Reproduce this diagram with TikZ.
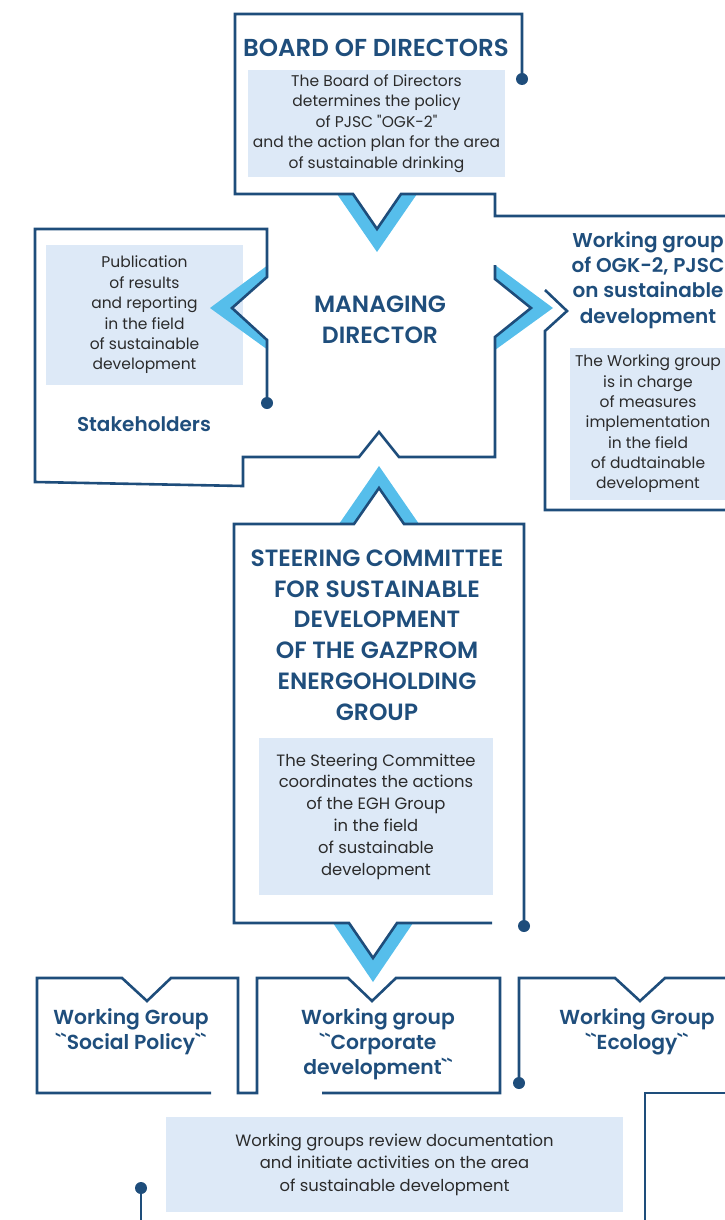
\documentclass[tikz,border=0pt]{standalone}
\usepackage{fontspec}
\setmainfont{Poppins}[Ligatures=TeXOff, BoldFont={Poppins SemiBold}]
\definecolor{dkb}{HTML}{1E4D7B}
\definecolor{hd}{HTML}{1F4E7C}
\definecolor{ltb}{HTML}{56BEEB}
\definecolor{pale}{HTML}{DDE9F7}
\definecolor{txt}{HTML}{2B2B2B}
\newcommand{\bq}{\symbol{96}\symbol{96}}
\begin{document}
\begin{tikzpicture}[x=1pt,y=-1pt,
  outl/.style={draw=dkb, line width=2.6pt, line join=miter},
  chev/.style={fill=ltb, draw=none},
  palebox/.style={fill=pale, inner sep=0pt, text=txt, align=center},
  body/.style 2 args={font=\fontsize{#1}{#2}\selectfont},
  head/.style={text=hd, align=center, inner sep=0pt, font=\bfseries\fontsize{#1}{#1}\selectfont},
  dotn/.style={circle, fill=dkb, inner sep=0pt, minimum size=12pt}]
\useasboundingbox (0,0) rectangle (725,1220);
\clip (0,0) rectangle (725,1220);

% pale boxes with body text
\node[palebox, body={15.5}{20.5}, minimum width=257pt, minimum height=107pt] (bodtxt) at (376.5,123.5)
  {The Board of Directors\\determines the policy\\of PJSC "OGK-2"\\and the action plan for the area\\of sustainable drinking};
\node[palebox, body={15.5}{20.4}, minimum width=197pt, minimum height=140pt] (pubtxt) at (144.5,315)
  {Publication\\of results\\and reporting\\in the field\\of sustainable\\development};
\node[palebox, body={15.5}{20.3}, minimum width=156pt, minimum height=152pt] (wgtxt) at (648,424)
  {The Working group\\is in charge\\of measures\\implementation\\in the field\\of dudtainable\\development};
\node[palebox, body={16.4}{21.8}, minimum width=234pt, minimum height=157pt] (sctxt) at (376,816.5)
  {The Steering Committee\\coordinates the actions\\of the EGH Group\\in the field\\of sustainable\\development};
\node[palebox, body={16.4}{22.5}, minimum width=457pt, minimum height=95pt] (wgstxt) at (394.5,1164.5)
  {Working groups review documentation\\and initiate activities on the area\\of sustainable development};

% light blue chevrons
\fill[chev] (337,194) -- (377,252) -- (417,194) -- (401,194) -- (377,229) -- (353,194) -- cycle;
\fill[chev] (268,265) -- (210,308) -- (268,350) -- (268,340) -- (232,308) -- (268,277) -- cycle;
\fill[chev] (495,265) -- (553,308) -- (495,350) -- (495,337) -- (531,308) -- (495,279) -- cycle;
\fill[chev] (339,524) -- (379,466) -- (419,524) -- (404,524) -- (379,488) -- (354,524) -- cycle;
\fill[chev] (333,923) -- (373,982) -- (413,923) -- (397,923) -- (373,958) -- (349,923) -- cycle;

% outlines
\draw[outl] (522,79) -- (522,14) -- (235,14) -- (235,194) -- (353,194) -- (377,229) -- (401,194)
  -- (495,194) -- (495,216) -- (728,216);
\draw[outl] (267,403) -- (267,340) -- (232,308) -- (267,277) -- (267,229) -- (35,229) -- (35,482)
  -- (243,486) -- (243,457) -- (359,457) -- (379,432) -- (399,457) -- (495,457) -- (495,337)
  -- (531,308) -- (495,279) -- (495,265);
\draw[outl] (545,290) -- (567,311) -- (545,331) -- (545,510) -- (728,510);
\draw[outl] (524,926) -- (524,524) -- (404,524) -- (379,488) -- (354,524) -- (234,524) -- (234,923)
  -- (349,923) -- (373,958) -- (397,923) -- (492,923);
\draw[outl] (211,1093) -- (37,1093) -- (37,978) -- (122,978) -- (147,1001) -- (171,978) -- (238,978)
  -- (238,1093) -- (257,1093) -- (257,978) -- (348,978) -- (372,1001) -- (396,978) -- (500,978)
  -- (500,1093) -- (322,1093);
\draw[outl] (519,1083) -- (519,978) -- (615,978) -- (640,1001) -- (665,978) -- (728,978);
\draw[outl] (728,1093) -- (645,1093) -- (645,1222);
\draw[outl] (141,1188) -- (141,1222);

% dots
\node[dotn] (d1) at (522,79) {};
\node[dotn] (d2) at (267,403) {};
\node[dotn] (d3) at (524,926) {};
\node[dotn] (d4) at (519,1083) {};
\node[dotn] (d5) at (141,1188) {};

% headings
\node[head=24.5] (bod) at (376,48) {BOARD OF DIRECTORS};
\node[text=hd, align=center, inner sep=0pt, font=\bfseries\fontsize{23.5}{31}\selectfont] (md) at (380,320) {MANAGING\\DIRECTOR};
\node[head=20] (stk) at (144,424) {Stakeholders};
\node[font=\bfseries\fontsize{20}{25.3}\selectfont, text=hd, align=center] (wg) at (648,280)
  {Working group\\of OGK-2, PJSC\\on sustainable\\development};
\node[font=\bfseries\fontsize{23.5}{30.8}\selectfont, text=hd, align=center] (sc) at (377,635)
  {STEERING COMMITTEE\\FOR SUSTAINABLE\\DEVELOPMENT\\OF THE GAZPROM\\ENERGOHOLDING\\GROUP};
\node[font=\bfseries\fontsize{20.3}{25}\selectfont, text=hd, align=center] (wg1) at (131,1031.5)
  {Working Group\\\bq Social Policy\bq};
\node[font=\bfseries\fontsize{20.3}{25}\selectfont, text=hd, align=center] (wg2) at (378,1044)
  {Working group\\\bq Corporate\\development\bq};
\node[font=\bfseries\fontsize{20.3}{25}\selectfont, text=hd, align=center] (wg3) at (637,1031.5)
  {Working Group\\\bq Ecology\bq};
\end{tikzpicture}
\end{document}
